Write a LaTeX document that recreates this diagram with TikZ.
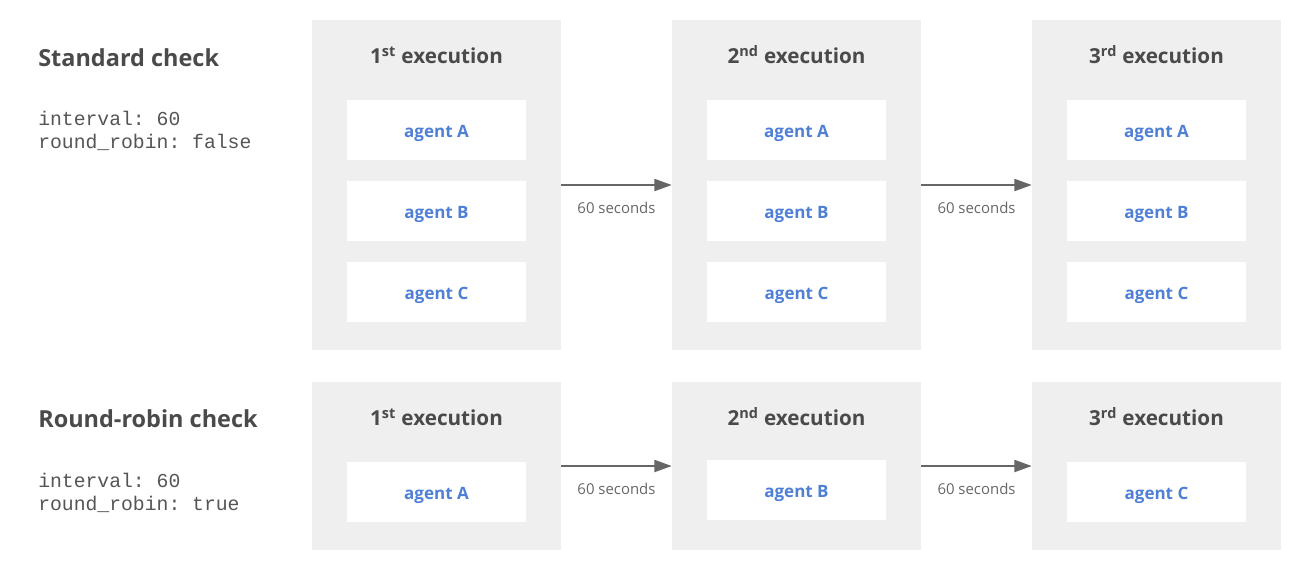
\documentclass[tikz,border=0pt]{standalone}
\usepackage{fontspec}
\setmainfont{Open Sans}
\setmonofont{Liberation Mono}
\usetikzlibrary{arrows.meta,positioning}
\definecolor{boxgray}{HTML}{EFEFEF}
\definecolor{txtgray}{HTML}{4A4A4A}
\definecolor{codegray}{HTML}{555555}
\definecolor{agentblue}{HTML}{4F80D6}
\definecolor{arrowgray}{HTML}{666666}
\tikzset{
  exec/.style={fill=boxgray, minimum width=186.75pt, inner sep=0pt},
  toprow/.style={exec, minimum height=247.5pt},
  botrow/.style={exec, minimum height=126pt},
  agentbox/.style={fill=white, minimum width=134.25pt, minimum height=45pt, inner sep=0pt,
    text height=10.5pt, text depth=0pt,
    text=agentblue, font=\fontsize{12.75}{15}\selectfont\bfseries},
  exectitle/.style={anchor=base, text=txtgray, inner sep=0pt, font=\fontsize{15.5}{18}\selectfont\bfseries},
  checktitle/.style={anchor=base west, text=txtgray, inner sep=0pt, font=\fontsize{17.6}{22}\selectfont\bfseries},
  checkcode/.style={anchor=base west, text=codegray, inner sep=0pt, align=left,
    font=\fontsize{14.8}{17.25}\selectfont\ttfamily},
  wait/.style={draw=arrowgray, line width=1.5pt, -{Triangle[length=13pt,width=9pt]}},
  waitlabel/.style={text=arrowgray, font=\fontsize{11.2}{13}\selectfont}
}
\begin{document}
\begin{tikzpicture}[x=0.75pt,y=-0.75pt]
\useasboundingbox (0,0) rectangle (1312,576);
% standard check
\node[checktitle] (stdtitle) at (38,66) {Standard check};
\node[checkcode] (stdcode) at (38,148) {interval: 60\\round\_robin: false};
\node[toprow] (std1) at (436.5,185) {};
\node[toprow] (std2) at (796.5,185) {};
\node[toprow] (std3) at (1156.5,185) {};
\node[exectitle] (std1t) at (436.5,63) {1\textsuperscript{st} execution};
\node[exectitle] (std2t) at (796.5,63) {2\textsuperscript{nd} execution};
\node[exectitle] (std3t) at (1156.5,63) {3\textsuperscript{rd} execution};
\node[agentbox] (std1a) at (436.5,130) {agent A};
\node[agentbox] (std1b) at (436.5,211) {agent B};
\node[agentbox] (std1c) at (436.5,292) {agent C};
\node[agentbox] (std2a) at (796.5,130) {agent A};
\node[agentbox] (std2b) at (796.5,211) {agent B};
\node[agentbox] (std2c) at (796.5,292) {agent C};
\node[agentbox] (std3a) at (1156.5,130) {agent A};
\node[agentbox] (std3b) at (1156.5,211) {agent B};
\node[agentbox] (std3c) at (1156.5,292) {agent C};
\draw[wait] (std1.east) -- node[below=9pt,waitlabel] {60 seconds} (std2.west);
\draw[wait] (std2.east) -- node[below=9pt,waitlabel] {60 seconds} (std3.west);
% round-robin check
\node[checktitle] (rrtitle) at (38,427) {Round-robin check};
\node[checkcode] (rrcode) at (38,510) {interval: 60\\round\_robin: true};
\node[botrow] (rr1) at (436.5,466) {};
\node[botrow] (rr2) at (796.5,466) {};
\node[botrow] (rr3) at (1156.5,466) {};
\node[exectitle] (rr1t) at (436.5,425) {1\textsuperscript{st} execution};
\node[exectitle] (rr2t) at (796.5,425) {2\textsuperscript{nd} execution};
\node[exectitle] (rr3t) at (1156.5,425) {3\textsuperscript{rd} execution};
\node[agentbox] (rr1a) at (436.5,492) {agent A};
\node[agentbox] (rr2b) at (796.5,490) {agent B};
\node[agentbox] (rr3c) at (1156.5,492) {agent C};
\draw[wait] (rr1.east) -- node[below=9pt,waitlabel] {60 seconds} (rr2.west);
\draw[wait] (rr2.east) -- node[below=9pt,waitlabel] {60 seconds} (rr3.west);
\end{tikzpicture}
\end{document}
